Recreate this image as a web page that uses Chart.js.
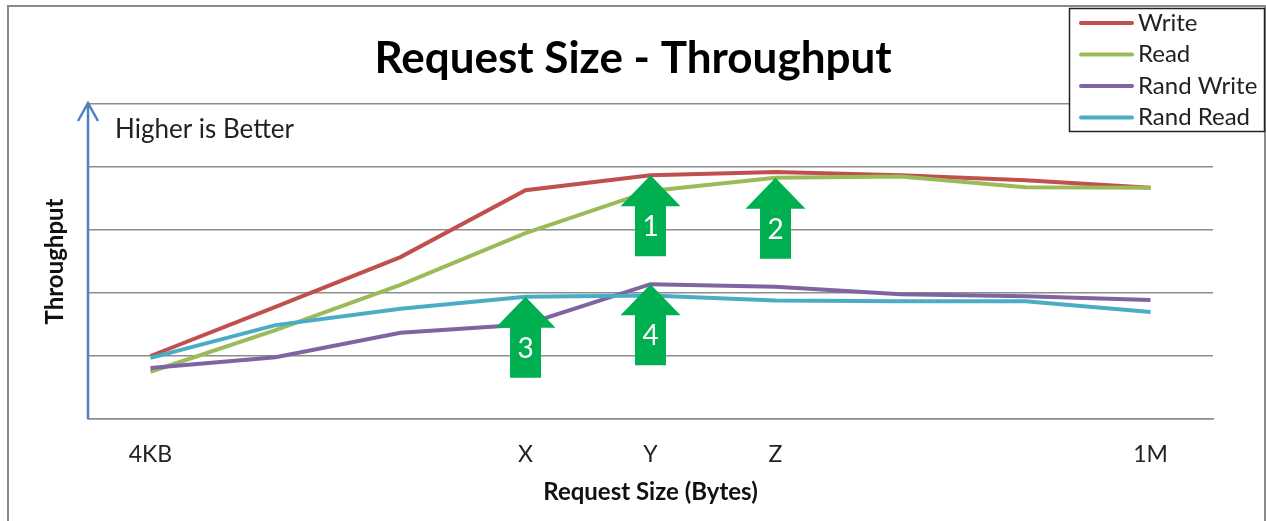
<!DOCTYPE html>
<html>
<head>
<meta charset="utf-8">
<script src="https://cdn.jsdelivr.net/npm/chart.js@4.4.1/dist/chart.umd.min.js"></script>
<style>
  html, body { margin: 0; padding: 0; background: #fff; }
  #wrap { width: 1266px; height: 521px; }
</style>
</head>
<body>
<div id="wrap"><canvas id="c"></canvas></div>
<script>
// categories (only some sizes are labelled on the axis)
const sizes = ["4KB", "", "", "X", "Y", "Z", "", "", "1M"];

// throughput, in gridline units (0..5)
const writeTp     = [1.00, 1.78, 2.57, 3.63, 3.87, 3.92, 3.87, 3.79, 3.67];
const readTp      = [0.75, 1.41, 2.13, 2.95, 3.62, 3.83, 3.85, 3.68, 3.67];
const randWriteTp = [0.81, 0.98, 1.37, 1.50, 2.14, 2.10, 1.98, 1.95, 1.89];
const randReadTp  = [0.97, 1.49, 1.75, 1.94, 1.96, 1.88, 1.87, 1.87, 1.70];

const seriesNames  = ["Write", "Read", "Rand Write", "Rand Read"];
const seriesColors = ["#C0504D", "#9BBB59", "#8064A2", "#4BACC6"];

// numbered green arrows, each pointing at one series at one size
const callouts = [
  { label: "1", series: 0, at: 4 },
  { label: "2", series: 1, at: 5 },
  { label: "3", series: 3, at: 3 },
  { label: "4", series: 2, at: 4 },
];

const FONT = "Lato, 'Open Sans', sans-serif";
const GRID = "#8c8c8c";

// grey frame round the whole chart
const frame = {
  id: "frame",
  beforeDraw(chart) {
    const ctx = chart.ctx;
    ctx.save();
    ctx.strokeStyle = "#8a8a8a";
    ctx.lineWidth = 2;
    ctx.beginPath();
    ctx.moveTo(8, chart.height);
    ctx.lineTo(8, 6);
    ctx.lineTo(1265, 6);
    ctx.lineTo(1265, chart.height);
    ctx.stroke();
    ctx.restore();
  },
};

// blue y axis arrow + note
const yArrow = {
  id: "yArrow",
  afterDraw(chart) {
    const { ctx, chartArea: a } = chart;
    ctx.save();
    ctx.strokeStyle = "#4F81BD";
    ctx.lineWidth = 2.5;
    ctx.beginPath();
    ctx.moveTo(a.left, a.bottom);
    ctx.lineTo(a.left, a.top - 1);
    ctx.moveTo(a.left - 10, a.top + 17);
    ctx.lineTo(a.left, a.top - 1);
    ctx.lineTo(a.left + 10, a.top + 17);
    ctx.stroke();
    ctx.fillStyle = "#222";
    ctx.font = "26px " + FONT;
    ctx.textBaseline = "middle";
    ctx.fillText("Higher is Better", a.left + 27, a.top + 26);
    ctx.restore();
  },
};

const arrows = {
  id: "arrows",
  afterDatasetsDraw(chart) {
    const ctx = chart.ctx;
    const xs = chart.scales.x, ys = chart.scales.y;
    ctx.save();
    callouts.forEach((c) => {
      const v = chart.data.datasets[c.series].data[c.at];
      const x = xs.getPixelForValue(c.at);
      const y = ys.getPixelForValue(v);
      ctx.fillStyle = "#00B050";
      ctx.beginPath();
      ctx.moveTo(x, y);
      ctx.lineTo(x + 30, y + 31);
      ctx.lineTo(x + 15.5, y + 31);
      ctx.lineTo(x + 15.5, y + 81);
      ctx.lineTo(x - 15.5, y + 81);
      ctx.lineTo(x - 15.5, y + 31);
      ctx.lineTo(x - 30, y + 31);
      ctx.closePath();
      ctx.fill();
      ctx.fillStyle = "#fff";
      ctx.font = "28px " + FONT;
      ctx.textAlign = "center";
      ctx.textBaseline = "middle";
      ctx.fillText(c.label, x, y + 52);
    });
    ctx.restore();
  },
};

// boxed legend at the top right corner
const boxLegend = {
  id: "boxLegend",
  afterDraw(chart) {
    const ctx = chart.ctx;
    ctx.save();
    ctx.fillStyle = "#fff";
    ctx.fillRect(1069, 8, 196, 124);
    ctx.strokeStyle = "#222";
    ctx.lineWidth = 1.5;
    ctx.strokeRect(1069.5, 8.5, 195, 123);
    ctx.font = "24px " + FONT;
    ctx.textBaseline = "middle";
    ctx.lineCap = "round";
    chart.data.datasets.forEach((ds, i) => {
      const y = 23 + i * 31.5;
      ctx.strokeStyle = ds.borderColor;
      ctx.lineWidth = 4;
      ctx.beginPath();
      ctx.moveTo(1081, y);
      ctx.lineTo(1132, y);
      ctx.stroke();
      ctx.fillStyle = "#222";
      ctx.fillText(ds.label, 1138, y);
    });
    ctx.restore();
  },
};

const values = [writeTp, readTp, randWriteTp, randReadTp];

new Chart(document.getElementById("c"), {
  type: "line",
  data: {
    labels: sizes,
    datasets: values.map((vals, i) => ({
      label: seriesNames[i],
      data: vals,
      borderColor: seriesColors[i],
      backgroundColor: seriesColors[i],
      borderWidth: 4,
      pointRadius: 0,
      tension: 0,
      order: 4 - i,
    })),
  },
  options: {
    responsive: true, maintainAspectRatio: false, animation: false,
    scales: {
      x: {
        offset: true,
        grid: { display: false, drawTicks: false },
        border: { display: true, color: GRID, width: 1.5 },
        ticks: { color: "#222", font: { family: FONT, size: 23 }, padding: 22, autoSkip: false, maxRotation: 0 },
        title: { display: true, text: "Request Size (Bytes)", color: "#111", font: { family: FONT, size: 24, weight: "bold" }, padding: { bottom: 14 } },
        afterFit: (s) => { s.height = 102; },
      },
      y: {
        min: 0, max: 5,
        ticks: { display: false, stepSize: 1 },
        grid: { color: GRID, lineWidth: 1.5, drawTicks: false },
        border: { display: false },
        title: { display: true, text: "Throughput", color: "#111", font: { family: FONT, size: 24, weight: "bold" }, padding: { top: 41 } },
        afterFit: (s) => { s.width = 88; },
      },
      // empty axis that only keeps the right margin
      gap: {
        position: "right",
        grid: { display: false, drawTicks: false },
        border: { display: false },
        ticks: { display: false },
        afterFit: (s) => { s.width = 53; },
      },
    },
    plugins: {
      legend: { display: false },
      tooltip: { enabled: false },
      title: {
        display: true, text: "Request Size - Throughput", color: "#000",
        font: { family: FONT, size: 44, weight: "bold" },
        padding: { top: 32, bottom: 19.2 },
      },
    },
  },
  plugins: [frame, arrows, yArrow, boxLegend],
});
</script>
</body>
</html>
